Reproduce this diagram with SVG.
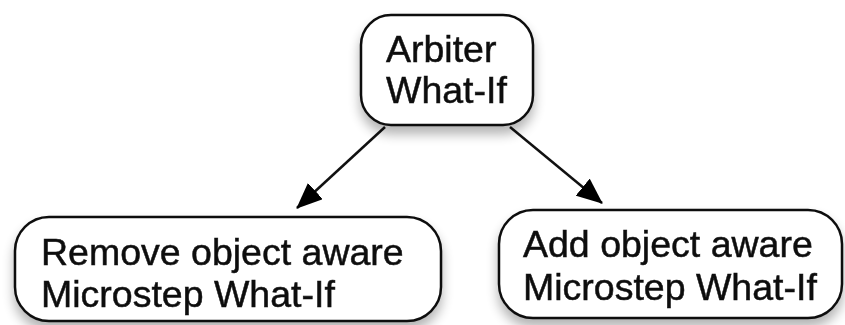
<svg xmlns="http://www.w3.org/2000/svg" width="845" height="325" viewBox="0 0 845 325">
  <defs>
    <filter id="shadow" x="-20%" y="-20%" width="140%" height="160%">
      <feGaussianBlur in="SourceAlpha" stdDeviation="6"/>
      <feOffset dx="0" dy="8" result="blur"/>
      <feComponentTransfer><feFuncA type="linear" slope="0.3"/></feComponentTransfer>
      <feMerge><feMergeNode/><feMergeNode in="SourceGraphic"/></feMerge>
    </filter>
    <marker id="head" viewBox="0 0 26 22" refX="25" refY="11" markerWidth="26" markerHeight="22" markerUnits="userSpaceOnUse" orient="auto">
      <path d="M0,0 L26,11 L0,22 z" fill="#000"/>
    </marker>
  </defs>
  <style>
    .box { fill: #fff; stroke: #111; stroke-width: 2.5; }
    .label { font-family: "Liberation Sans", Arial, sans-serif; font-size: 37.5px; fill: #111; stroke: #111; stroke-width: 0.5; }
    .edge { stroke: #111; stroke-width: 2.5; fill: none; }
  </style>
  <rect width="845" height="325" fill="#fff"/>

  <g id="connectors">
    <line class="edge" x1="385" y1="127" x2="297" y2="208" marker-end="url(#head)"/>
    <line class="edge" x1="510" y1="127" x2="602" y2="203" marker-end="url(#head)"/>
  </g>

  <g id="arbiter" filter="url(#shadow)">
    <rect class="box" x="361" y="15" width="172" height="110" rx="30" ry="30"/>
    <text class="label" x="386" y="62">Arbiter</text>
    <text class="label" x="386" y="103">What-If</text>
  </g>

  <g id="remove-microstep" filter="url(#shadow)">
    <rect class="box" x="15" y="217" width="426" height="104" rx="34" ry="34"/>
    <text class="label" x="41" y="265">Remove object aware</text>
    <text class="label" x="41" y="307">Microstep What-If</text>
  </g>

  <g id="add-microstep" filter="url(#shadow)">
    <rect class="box" x="499" y="210" width="343" height="108" rx="34" ry="34"/>
    <text class="label" x="523" y="257">Add object aware</text>
    <text class="label" x="523" y="300">Microstep What-If</text>
  </g>
</svg>
